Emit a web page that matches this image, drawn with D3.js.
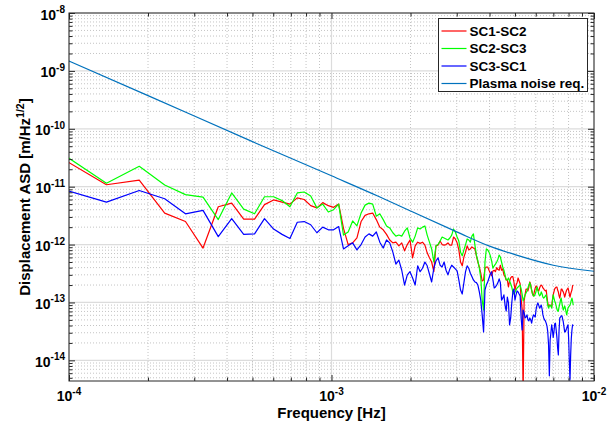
<!DOCTYPE html>
<html>
<head>
<meta charset="utf-8">
<script src="https://cdn.jsdelivr.net/npm/d3@7"></script>
<style>
  body { margin: 0; background: #fff; }
  svg { display: block; font-family: "Liberation Sans", Arial, Helvetica, sans-serif; font-weight: bold; }
</style>
</head>
<body>
<svg id="chart" width="615" height="423"></svg>
<script>
// frequency bins of a 6 h segment (bin 2 .. 180)
const binWidth = 1 / 21600;
const bins = d3.range(2, 181);
const freqs = bins.map(k => k * binWidth);

// displacement ASD [m/Hz^1/2], one value per bin
const sc12 = [
  3.2e-11, 1.08e-11, 1.3e-11, 3.5e-12, 2.5e-12, 8.7e-13, 4.5e-12, 5.2e-12, 2.75e-12, 2.75e-12,
  4.9e-12, 5.9e-12, 5.4e-12, 5.0e-12, 6.4e-12, 6.0e-12, 4.7e-12, 4.3e-12, 5.3e-12, 4.7e-12,
  4.4e-12, 5.0e-12,
  1.9e-12, 1.0e-12, 1.07e-12, 1.3e-12, 2.5e-12, 3.2e-12, 3.4e-12, 3.5e-12, 2.7e-12, 2.0e-12,
  1.8e-12, 1.5e-12, 1.2e-12, 1.07e-12, 1.1e-12, 9.5e-13, 1.07e-12, 7.8e-13, 1.0e-12, 1.2e-12,
  5.9e-13, 9.5e-13,
  1.1e-12, 1.05e-12, 1.1e-12, 9.8e-13, 7.2e-13, 5.9e-13, 5.0e-13, 3.4e-13,
  9.5e-13, 9.8e-13, 1.15e-12, 1.0e-12, 9.8e-13, 1.0e-12, 1.07e-12, 9.8e-13, 9.8e-13, 1.35e-12, 1.25e-12, 1.07e-12,
  8.1e-13, 5.0e-13, 4.3e-13, 6.1e-13, 7.4e-13, 9.5e-13, 8.1e-13, 8.4e-13, 9.1e-13, 8.7e-13,
  8.4e-13, 6.4e-13, 5.0e-13, 4.1e-13, 3.2e-13, 2.35e-13, 2.45e-13, 3.9e-13, 4.1e-13, 4.1e-13,
  3.6e-13, 3.2e-13, 2.9e-13, 3.5e-13, 3.6e-13, 3.4e-13, 4.0e-13, 3.7e-13, 3.6e-13, 4.4e-13,
  3.6e-13, 3.8e-13, 3.0e-13, 2.8e-13, 2.45e-13,
  2.45e-13, 1.85e-13, 2.35e-13, 2.65e-13, 2.8e-13, 2.8e-13, 2.26e-13, 1.64e-13, 2.0e-13, 2.2e-13,
  2.65e-13, 2.35e-13, 2.1e-13, 1.15e-13, 7.7e-14, 2.5e-15, 1.06e-13, 1.35e-13, 1.71e-13, 1.71e-13,
  1.58e-13, 1.85e-13, 2.26e-13, 2.0e-13, 1.64e-13, 1.4e-13, 1.3e-13, 1.52e-13, 1.78e-13, 1.93e-13,
  1.85e-13, 1.64e-13, 1.58e-13, 1.78e-13, 1.93e-13, 2.0e-13, 1.93e-13, 1.78e-13, 1.71e-13, 1.64e-13,
  1.58e-13, 1.64e-13, 1.24e-13, 9.8e-14, 8.4e-14, 9.0e-14, 9.0e-14, 8.7e-14, 8.4e-14, 1.1e-13,
  1.35e-13, 1.52e-13, 1.71e-13, 1.78e-13, 1.85e-13, 1.85e-13, 1.64e-13, 1.52e-13, 1.3e-13, 1.19e-13,
  1.4e-13, 1.71e-13, 1.71e-13, 1.58e-13, 1.52e-13, 1.4e-13, 1.24e-13, 1.35e-13, 1.52e-13, 1.64e-13,
  1.71e-13, 1.78e-13, 1.58e-13, 1.4e-13, 1.24e-13, 1.4e-13, 1.52e-13, 1.64e-13, 1.93e-13, 2.0e-13
];
const sc23 = [
  3.9e-11, 1.15e-11, 2.25e-11, 1.07e-11, 7.3e-12, 6.6e-12, 2.7e-12, 7.8e-12, 4.1e-12, 3.4e-12,
  6.7e-12, 6.7e-12, 5.75e-12, 4.5e-12, 7.8e-12, 8.1e-12, 6.9e-12, 4.3e-12, 5.0e-12, 3.65e-12,
  4.0e-12, 5.0e-12,
  1.46e-12, 1.65e-12, 2.56e-12, 2.1e-12, 3.5e-12, 4.8e-12, 5.2e-12, 5.0e-12, 3.1e-12, 3.4e-12,
  2.7e-12, 2.1e-12, 1.94e-12, 1.6e-12, 1.4e-12, 1.46e-12, 1.4e-12, 1.7e-12, 1.94e-12, 1.3e-12,
  1.1e-12, 1.4e-12,
  1.94e-12, 1.86e-12, 2.0e-12, 2.1e-12, 1.46e-12, 1.1e-12, 8.4e-13, 5.0e-13,
  9.5e-13, 1.0e-12, 1.15e-12, 1.35e-12, 1.3e-12, 1.25e-12, 1.2e-12, 1.3e-12, 1.46e-12, 1.86e-12, 1.65e-12, 1.35e-12,
  1.15e-12, 7.4e-13, 6.4e-13, 8.1e-13, 1.0e-12, 1.25e-12, 1.2e-12, 1.1e-12, 1.4e-12, 1.53e-12,
  9.8e-13, 6.6e-13, 5.2e-13, 3.9e-13, 2.65e-13, 1.1e-13, 7.4e-14, 5.0e-13, 8.4e-13, 8.1e-13,
  7.4e-13, 6.4e-13, 5.2e-13, 3.9e-13, 4.3e-13, 4.6e-13, 5.0e-13, 5.6e-13, 6.6e-13, 6.1e-13,
  5.0e-13, 4.1e-13, 3.6e-13, 3.0e-13, 2.45e-13,
  2.45e-13, 2.65e-13, 2.35e-13, 2.1e-13, 1.85e-13, 1.52e-13, 1.4e-13, 1.52e-13, 1.64e-13, 1.78e-13,
  1.85e-13, 1.93e-13, 2.0e-13, 1.71e-13, 1.4e-13, 1.06e-13, 1.19e-13, 1.35e-13, 1.46e-13, 1.58e-13,
  1.78e-13, 2.0e-13, 2.2e-13, 1.93e-13, 1.64e-13, 1.4e-13, 1.3e-13, 1.3e-13, 1.4e-13, 1.58e-13,
  1.85e-13, 1.64e-13, 1.4e-13, 1.3e-13, 1.35e-13, 1.52e-13, 1.4e-13, 1.24e-13, 1.19e-13, 1.24e-13,
  1.3e-13, 1.35e-13, 1.1e-13, 9.0e-14, 8.0e-14, 8.7e-14, 9.0e-14, 8.7e-14, 8.0e-14, 1.06e-13,
  1.35e-13, 1.19e-13, 1.06e-13, 9.8e-14, 8.7e-14, 7.7e-14, 7.1e-14, 7.1e-14, 8.4e-14, 9.4e-14,
  1.1e-13, 1.19e-13, 9.8e-14, 8.4e-14, 7.4e-14, 8.0e-14, 8.7e-14, 8.0e-14, 6.9e-14, 6.1e-14,
  7.1e-14, 8.0e-14, 8.4e-14, 8.7e-14, 9.0e-14, 9.8e-14, 1.1e-13, 1.19e-13, 1.06e-13, 9.0e-14
];
const sc31 = [
  9.3e-12, 5.4e-12, 8.6e-12, 6.2e-12, 3.4e-12, 3.9e-12, 1.37e-12, 2.8e-12, 1.5e-12, 1.53e-12,
  2.8e-12, 1.85e-12, 1.5e-12, 1.27e-12, 2.43e-12, 2.5e-12, 2.2e-12, 1.6e-12, 2.0e-12, 1.8e-12,
  1.8e-12, 2.05e-12,
  8.4e-13, 9.5e-13, 1.07e-12, 8.1e-13, 1.0e-12, 1.35e-12, 1.53e-12, 1.4e-12, 1.65e-12, 1.1e-12,
  8.7e-13, 1.2e-12, 1.07e-12, 7.4e-13, 4.6e-13, 5.4e-13, 3.6e-13, 2.0e-13, 3.0e-13, 3.4e-13,
  2.65e-13, 2.0e-13,
  4.3e-13, 3.4e-13, 3.9e-13, 5.0e-13, 4.3e-13, 3.1e-13, 2.26e-13, 3.9e-13,
  5.2e-13, 5.9e-13, 4.4e-13, 4.1e-13, 5.0e-13, 3.6e-13, 3.0e-13, 3.8e-13, 4.4e-13, 4.1e-13, 3.8e-13, 3.5e-13,
  2.45e-13, 1.64e-13, 1.4e-13, 2.2e-13, 3.4e-13, 4.3e-13, 3.9e-13, 3.2e-13, 2.8e-13, 2.45e-13,
  2.26e-13, 2.2e-13, 2.0e-13, 1.52e-13, 1.1e-13, 6.1e-14, 3.1e-14, 1.64e-13, 2.0e-13, 2.26e-13,
  2.65e-13, 3.1e-13, 3.4e-13, 2.45e-13, 1.78e-13, 1.85e-13, 2.0e-13, 2.2e-13, 2.55e-13, 2.2e-13,
  1.1e-13, 1.19e-13, 1.35e-13, 9.0e-14, 7.1e-14,
  1.24e-13, 9.8e-14, 4.1e-14, 5.4e-14, 9.8e-14, 1.52e-13, 1.71e-13, 1.1e-13, 1.35e-13, 1.58e-13,
  1.52e-13, 1.4e-13, 1.3e-13, 5.4e-14, 3.35e-14, 7.4e-14, 6.6e-14, 5.4e-14, 5.6e-14, 6.1e-14,
  5.0e-14, 4.8e-14, 5.4e-14, 5.0e-14, 4.4e-14, 5.4e-14, 6.1e-14, 5.9e-14, 5.6e-14, 7.7e-14,
  9.0e-14, 9.8e-14, 9.0e-14, 8.0e-14, 8.4e-14, 9.0e-14, 7.7e-14, 6.1e-14, 5.4e-14, 5.0e-14,
  4.8e-14, 4.4e-14, 3.9e-14, 3.1e-14, 1.84e-14, 5.4e-15, 2.25e-14, 3.0e-14, 4.1e-14, 3.35e-14,
  2.5e-14, 3.1e-14, 4.25e-14, 4.4e-14, 3.35e-14, 2.5e-14, 1.64e-14, 1.24e-14, 3.35e-14, 5.4e-14,
  5.6e-14, 5.9e-14, 5.9e-14, 5.2e-14, 4.6e-14, 3.8e-14, 3.1e-14, 3.1e-14, 3.35e-14, 3.6e-14,
  3.9e-14, 4.1e-14, 2.25e-14, 9.4e-15, 4.6e-15, 1.24e-14, 2.4e-14, 3.35e-14, 4.1e-14, 3.9e-14
];

// plasma noise requirement curve
const plasmaFreq = [1e-4, 2e-4, 5e-4, 1e-3, 1.5e-3, 2e-3, 3e-3, 4e-3, 5e-3, 7e-3, 1e-2];
const plasmaAsd = [1.48e-9, 3.74e-10, 6.0e-11, 1.54e-11, 6.9e-12, 3.8e-12, 1.66e-12, 9.4e-13, 6.7e-13, 4.4e-13, 3.46e-13];

const seriesNames = ["SC1-SC2", "SC2-SC3", "SC3-SC1", "Plasma noise req."];
const seriesColors = ["#ff0000", "#00ff00", "#0000ff", "#0072bd"];

const xTicks = [1e-4, 1e-3, 1e-2];
const yTicks = [1e-14, 1e-13, 1e-12, 1e-11, 1e-10, 1e-9, 1e-8];

var width = 615,
    height = 423,
    margin = {left: 69, top: 13, right: 21, bottom: 42};
var W = width - margin.left - margin.right,
    H = height - margin.top - margin.bottom;

var x = d3.scaleLog().domain([1e-4, 1e-2]).range([0, W]);
var y = d3.scaleLog().domain([4.4e-15, 1e-8]).range([H, 0]);

// minor tick values (2..9 in every decade)
function minors(lo, hi) {
  var out = [];
  for (var e = Math.floor(Math.log10(lo)); e < Math.ceil(Math.log10(hi)); e++) {
    for (var m = 2; m <= 9; m++) {
      var v = m * Math.pow(10, e);
      if (v > lo && v < hi) out.push(v);
    }
  }
  return out;
}
var xMinor = minors(1e-4, 1e-2);
var yMinor = minors(4.4e-15, 1e-8);

var svg = d3.select("#chart");
var g = svg.append("g").attr("transform", "translate(" + margin.left + "," + margin.top + ")");

// grid
var grid = g.append("g");
grid.selectAll(".gx-minor").data(xMinor).join("line")
  .attr("class", "gx-minor")
  .attr("x1", d => x(d)).attr("x2", d => x(d)).attr("y1", 0).attr("y2", H)
  .attr("stroke", "#c4c4c4").attr("stroke-dasharray", "1,2");
grid.selectAll(".gy-minor").data(yMinor).join("line")
  .attr("class", "gy-minor")
  .attr("x1", 0).attr("x2", W).attr("y1", d => y(d)).attr("y2", d => y(d))
  .attr("stroke", "#c4c4c4").attr("stroke-dasharray", "1,2");
grid.selectAll(".gx-major").data(xTicks).join("line")
  .attr("class", "gx-major")
  .attr("x1", d => x(d)).attr("x2", d => x(d)).attr("y1", 0).attr("y2", H)
  .attr("stroke", "#dcdcdc").attr("stroke-width", 1.2);
grid.selectAll(".gy-major").data(yTicks).join("line")
  .attr("class", "gy-major")
  .attr("x1", 0).attr("x2", W).attr("y1", d => y(d)).attr("y2", d => y(d))
  .attr("stroke", "#dcdcdc").attr("stroke-width", 1.2);

// data
svg.append("defs").append("clipPath").attr("id", "clip")
  .append("rect").attr("width", W).attr("height", H);

var line = d3.line().x(d => x(d[0])).y(d => y(d[1]));
var series = [
  freqs.map((f, i) => [f, sc12[i]]),
  freqs.map((f, i) => [f, sc23[i]]),
  freqs.map((f, i) => [f, sc31[i]]),
  plasmaFreq.map((f, i) => [f, plasmaAsd[i]])
];
var plot = g.append("g").attr("clip-path", "url(#clip)");
series.forEach(function(s, i) {
  plot.append("path")
    .datum(s)
    .attr("fill", "none")
    .attr("stroke", seriesColors[i])
    .attr("stroke-width", 1.2)
    .attr("stroke-linejoin", "round")
    .attr("d", i == 3 ? line.curve(d3.curveMonotoneX)(s) : line.curve(d3.curveLinear)(s));
});

// axes (ticks inside, on all four sides)
function ticks(axis, vals, size) {
  return axis.tickValues(vals).tickSize(size).tickSizeOuter(0).tickFormat("");
}
function clean(sel) {
  sel.select(".domain").remove();
  sel.selectAll(".tick line").attr("stroke", "#262626");
}
g.append("g").attr("transform", "translate(0," + H + ")").call(ticks(d3.axisBottom(x), xTicks, -6)).call(clean);
g.append("g").attr("transform", "translate(0," + H + ")").call(ticks(d3.axisBottom(x), xMinor, -3.5)).call(clean);
g.append("g").call(ticks(d3.axisTop(x), xTicks, -6)).call(clean);
g.append("g").call(ticks(d3.axisTop(x), xMinor, -3.5)).call(clean);
g.append("g").call(ticks(d3.axisLeft(y), yTicks, -6)).call(clean);
g.append("g").call(ticks(d3.axisLeft(y), yMinor, -3.5)).call(clean);
g.append("g").attr("transform", "translate(" + W + ",0)").call(ticks(d3.axisRight(y), yTicks, -6)).call(clean);
g.append("g").attr("transform", "translate(" + W + ",0)").call(ticks(d3.axisRight(y), yMinor, -3.5)).call(clean);

g.append("rect").attr("width", W).attr("height", H)
  .attr("fill", "none").attr("stroke", "#262626").attr("stroke-width", 1);

// tick labels 10^n
function exp10(d) { return Math.round(Math.log10(d)); }

var xl = g.append("g").selectAll("text").data(xTicks).join("text")
  .attr("x", d => x(d)).attr("y", H + 20)
  .attr("text-anchor", "middle").attr("fill", "#000").style("font-size", "14px");
xl.append("tspan").text("10");
xl.append("tspan").attr("dy", -6.5).style("font-size", "10px").text(d => "-" + Math.abs(exp10(d)));

var yl = g.append("g").selectAll("text").data(yTicks).join("text")
  .attr("x", -4).attr("y", d => y(d) + 6.5)
  .attr("text-anchor", "end").attr("fill", "#000").style("font-size", "14px");
yl.append("tspan").text("10");
yl.append("tspan").attr("dy", -6.5).style("font-size", "10px").text(d => "-" + Math.abs(exp10(d)));

// axis titles
svg.append("text")
  .attr("x", margin.left + W / 2).attr("y", 418)
  .attr("text-anchor", "middle").style("font-size", "15px")
  .text("Frequency [Hz]");

var yt = svg.append("text")
  .attr("transform", "translate(30," + (margin.top + H / 2) + ") rotate(-90)")
  .attr("text-anchor", "middle").style("font-size", "15px");
yt.append("tspan").text("Displacement ASD [m/Hz");
yt.append("tspan").attr("dy", -6).style("font-size", "10.5px").text("1/2");
yt.append("tspan").attr("dy", 6).text("]");

// legend
var legend = svg.append("g").attr("transform", "translate(438.5,18.5)");
legend.append("rect").attr("width", 149).attr("height", 73)
  .attr("fill", "#fff").attr("stroke", "#262626").attr("stroke-width", 1);
seriesNames.forEach(function(name, i) {
  var row = legend.append("g").attr("transform", "translate(0," + (12.5 + i * 17.5) + ")");
  row.append("line").attr("x1", 3).attr("x2", 28).attr("y1", 0).attr("y2", 0)
    .attr("stroke", seriesColors[i]).attr("stroke-width", 1.2);
  row.append("text").attr("x", 31).attr("y", 4.8)
    .style("font-size", "13.5px").attr("fill", "#000").text(name);
});
</script>
</body>
</html>
